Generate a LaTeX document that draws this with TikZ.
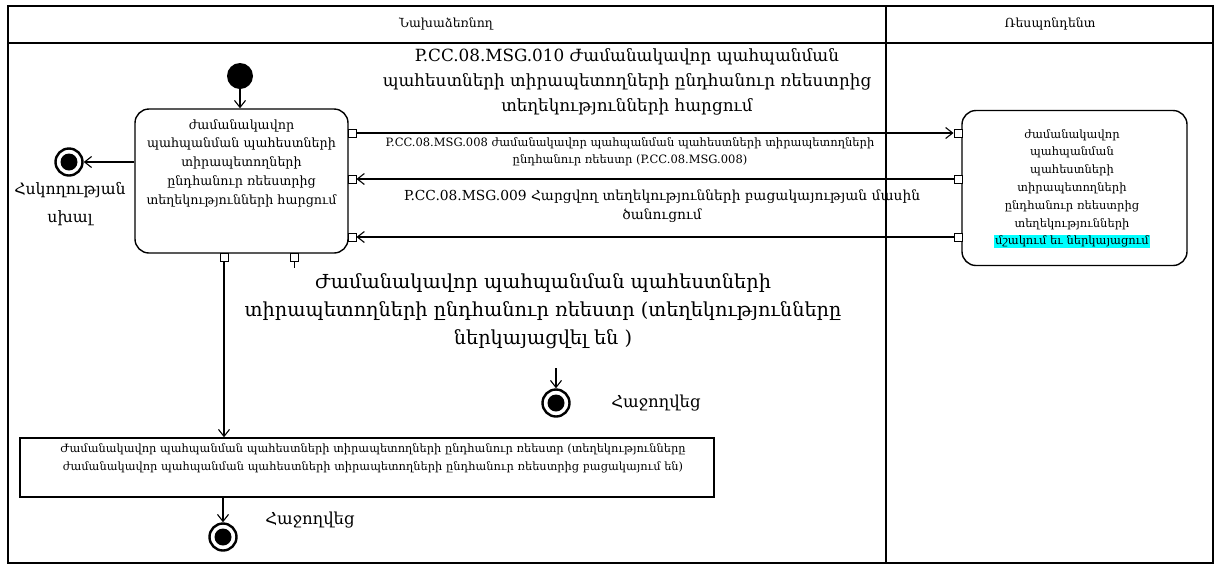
\documentclass[tikz,border=0pt]{standalone}
\usepackage{fontspec}
\setmainfont{DejaVu Serif}
\usetikzlibrary{arrows.meta}
\definecolor{hl}{RGB}{0,255,255}
\begin{document}
\begin{tikzpicture}[x=1pt,y=-1pt,
  frame/.style={draw, line width=1.5pt},
  act/.style={draw, line width=1.4pt, rounded corners=14pt},
  port/.style={draw, line width=1pt, fill=white, minimum size=8pt, inner sep=0pt},
  msg/.style={line width=1.1pt, -{Straight Barb[length=7pt,width=11pt,line width=1.1pt]}},
  startnode/.style={circle, fill=black, minimum size=26pt, inner sep=0pt},
  endnode/.style={circle, draw, line width=2.4pt, fill=white, minimum size=27pt, inner sep=0pt,
    path picture={\fill[black] (path picture bounding box.center) circle (8.5pt);}},
  lbl/.style={align=center, inner sep=0pt},
]
\useasboundingbox (0,0) rectangle (1221,566);
% frame and lanes
\draw[frame] (8,6) rectangle (1213,563);
\draw[frame] (8,43) -- (1213,43);
\draw[frame] (886,6) -- (886,563);
\node[lbl, font=\fontsize{12.5}{15}\selectfont] (laneA) at (446,24) {Նախաձեռնող};
\node[lbl, font=\fontsize{12.5}{15}\selectfont] (laneB) at (1050,24) {Ռեսպոնդենտ};

% initial
\node[startnode] (init) at (240,76) {};
% main activity
\node[act, minimum width=213pt, minimum height=144pt, inner sep=0pt] (main) at (241.5,181) {};
\node[lbl, font=\fontsize{12.7}{18.9}\selectfont, anchor=north] (mainTxt) at (241.5,119)
  {ժամանակավոր\\պահպանման պահեստների\\տիրապետողների\\ընդհանուր ռեեստրից\\տեղեկությունների հարցում};
\draw[msg] (init) -- (main.north -| init);

% right activity
\node[act, minimum width=225pt, minimum height=155pt, inner sep=0pt] (resp) at (1074.5,188) {};
\node[lbl, font=\fontsize{11.5}{17.8}\selectfont, anchor=north] (respTxt) at (1072,129)
  {ժամանակավոր\\պահպանման\\պահեստների\\տիրապետողների\\ընդհանուր ռեեստրից\\տեղեկությունների\\{\fboxsep=1pt\colorbox{hl}{մշակում եւ ներկայացում}}};

% ports
\node[port] (pa1) at (352,133) {};
\node[port] (pa2) at (352,179) {};
\node[port] (pa3) at (352,237) {};
\node[port] (pb1) at (958,133) {};
\node[port] (pb2) at (958,179) {};
\node[port] (pb3) at (958,237) {};
\node[port] (pd1) at (224,257) {};
\node[port] (pd2) at (294,257) {};

% messages
\draw[msg] (pa1.east) -- (pb1.west);
\draw[msg] (pb2.west) -- (pa2.east);
\draw[msg] (pb3.west) -- (pa3.east);

\node[lbl, font=\fontsize{16.8}{25}\selectfont] (m010) at (627,82)
  {P.CC.08.MSG.010 Ժամանակավոր պահպանման\\պահեստների տիրապետողների ընդհանուր ռեեստրից\\տեղեկությունների հարցում};
\node[lbl, font=\fontsize{11.5}{17}\selectfont] (m008) at (630,152)
  {P.CC.08.MSG.008 ժամանակավոր պահպանման պահեստների տիրապետողների\\ընդհանուր ռեեստր (P.CC.08.MSG.008)};
\node[lbl, font=\fontsize{13.8}{18.5}\selectfont] (m009) at (662,206)
  {P.CC.08.MSG.009 Հարցվող տեղեկությունների բացակայության մասին\\ծանուցում};

% error final
\node[endnode] (fin1) at (69,162) {};
\draw[msg] (main.west |- fin1) -- (fin1.east);
\node[lbl, font=\fontsize{15.7}{28}\selectfont] (fin1Lbl) at (70,204) {Հսկողության\\սխալ};

% success label
\node[lbl, font=\fontsize{19.3}{28}\selectfont] (okLbl) at (543,311)
  {Ժամանակավոր պահպանման պահեստների\\տիրապետողների ընդհանուր ռեեստր (տեղեկությունները\\ներկայացվել են )};
\coordinate (stub) at (294,268);
\draw[line width=1pt] (pd2.south) -- (stub);
\coordinate (f2top) at (556,368);
\node[endnode] (fin2) at (556,403) {};
\draw[msg] (f2top) -- (fin2.north);
\node[lbl, font=\fontsize{16.5}{20}\selectfont] (fin2Lbl) at (656,403) {Հաջողվեց};

% bottom activity
\node[draw, line width=1.4pt, minimum width=694pt, minimum height=59pt, inner sep=0pt] (absent) at (367,467.5) {};
\node[lbl, font=\fontsize{11.4}{18}\selectfont] (absentTxt) at (373,458)
  {Ժամանակավոր պահպանման պահեստների տիրապետողների ընդհանուր ռեեստր (տեղեկությունները\\ժամանակավոր պահպանման պահեստների տիրապետողների ընդհանուր ռեեստրից բացակայում են)};
\draw[msg] (pd1.south) -- (pd1.south |- absent.north);

\node[endnode] (fin3) at (223,537) {};
\draw[msg] (absent.south -| fin3) -- (fin3.north);
\node[lbl, font=\fontsize{16.5}{20}\selectfont] (fin3Lbl) at (310,520) {Հաջողվեց};
\end{tikzpicture}
\end{document}
